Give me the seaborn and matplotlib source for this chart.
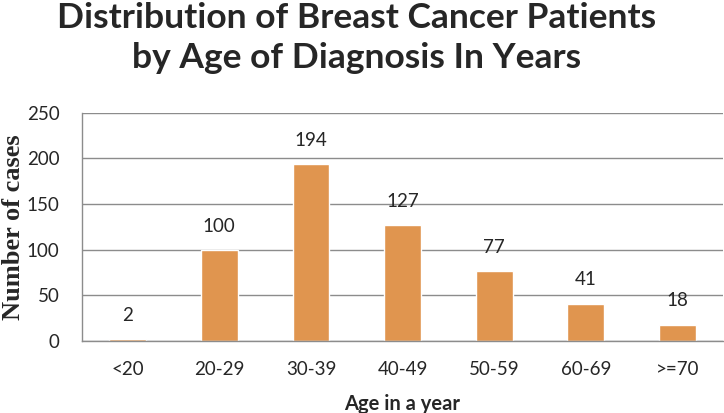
import matplotlib
matplotlib.use("Agg")
import matplotlib.pyplot as plt
import seaborn as sns
import pandas as pd

age_groups = ["<20", "20-29", "30-39", "40-49", "50-59", "60-69", ">=70"]
cases = [2, 100, 194, 127, 77, 41, 18]
y_ticks = [0, 50, 100, 150, 200, 250]

df = pd.DataFrame({"Age": age_groups, "Cases": cases})

sns.set_style("white")
plt.rcParams["font.family"] = ["Lato", "DejaVu Sans"]

fig = plt.figure(figsize=(7.24, 4.13), dpi=100)
ax = fig.add_axes([0.113, 0.174, 0.886, 0.553])

sns.barplot(x="Age", y="Cases", data=df, color="#E0954F", saturation=1, width=0.4, ax=ax)

ax.set_ylim(0, 250)
ax.set_xlim(-0.5, len(age_groups) - 0.5)
ax.set_yticks(y_ticks)
ax.yaxis.grid(True, color="#8c8c8c", linewidth=1)
ax.set_axisbelow(True)

for s in ["top", "right"]:
    ax.spines[s].set_visible(False)
for s in ["left", "bottom"]:
    ax.spines[s].set_color("#8c8c8c")
    ax.spines[s].set_linewidth(1)

ax.tick_params(axis="y", which="major", length=5, color="#8c8c8c", labelsize=13.5, pad=11)
ax.tick_params(axis="x", which="major", length=0, labelsize=13.5, pad=14)
ax.set_xticks([i - 0.5 for i in range(len(age_groups) + 1)], minor=True)
ax.tick_params(axis="x", which="minor", length=6, color="#8c8c8c", width=1)

for i, v in enumerate(cases):
    ax.annotate(str(v), (i, v), xytext=(0, 11), textcoords="offset points",
                ha="center", va="bottom", fontsize=13.5)

ax.set_xlabel("Age in a year", fontsize=14.5, fontweight="bold", labelpad=12)
ax.set_ylabel("Number of cases", fontsize=19, fontweight="bold",
              family="Liberation Serif", va="center")
ax.yaxis.set_label_coords(-0.106, 0.5)

fig.suptitle("Distribution of Breast Cancer Patients\nby Age of Diagnosis In Years",
             x=0.492, y=0.995, fontsize=25.5, fontweight="bold", linespacing=1.3)

fig.savefig("out.png", dpi=100)
